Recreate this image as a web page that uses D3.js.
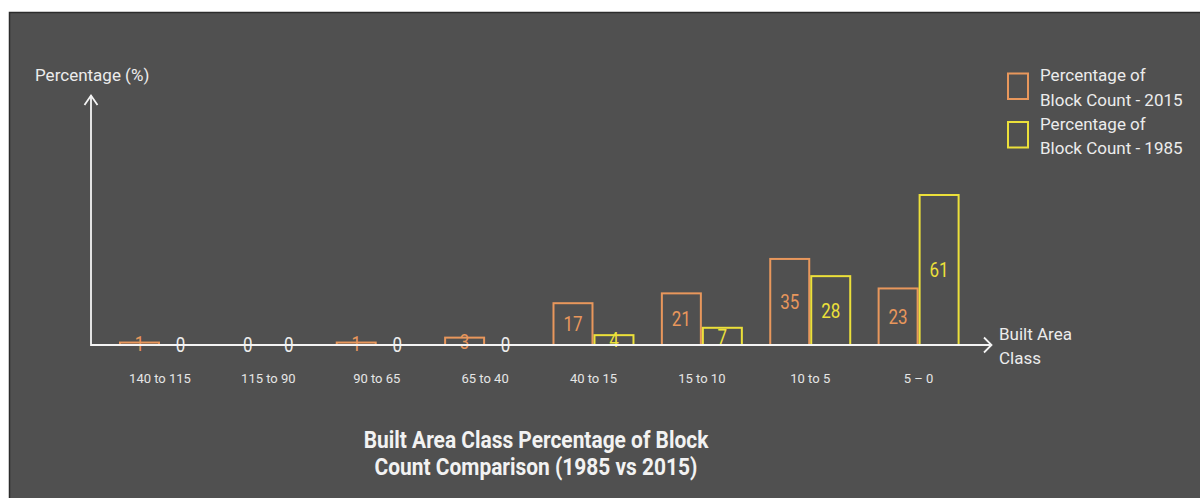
<!DOCTYPE html>
<html><head><meta charset="utf-8">
<script src="https://cdn.jsdelivr.net/npm/d3@7"></script>
<style>
html,body{margin:0;padding:0;background:#fff;}
svg{display:block;font-family:Roboto,"Noto Sans",sans-serif;}
</style></head>
<body>
<svg id="chart" width="1200" height="498"></svg>
<script>
const categories = ["140 to 115","115 to 90","90 to 65","65 to 40","40 to 15","15 to 10","10 to 5","5 \u2013 0"];
const series = ["2015","1985"];
const values2015 = [1, 0, 1, 3, 17, 21, 35, 23];
const values1985 = [0, 0, 0, 0, 4, 7, 28, 61];
const legendLabels = [["Percentage of","Block Count - 2015"],["Percentage of","Block Count - 1985"]];
const colors = {"2015":"#e8975c","1985":"#ece03a"};

const svg = d3.select("#chart");
svg.append("rect").attr("x",9.5).attr("y",12.5).attr("width",1200).attr("height",500)
  .attr("fill","#505050").attr("stroke","#2c2c2c").attr("stroke-width",1.5);

const baseY = 345, axisX = 91;
const x0 = d3.scaleBand().domain(categories).range([105.8, 972.8]).paddingInner(0.2435).paddingOuter(0.12175);
const x1 = d3.scaleBand().domain(series).range([0, x0.bandwidth()]);
const y = d3.scaleLinear().domain([0, 61]).range([baseY, 195]);

const data = categories.map((c,i)=>({cat:c, vals:[{s:"2015",v:values2015[i]},{s:"1985",v:values1985[i]}]}));

const g = svg.append("g");
const groups = g.selectAll("g.grp").data(data).join("g").attr("class","grp")
  .attr("transform",d=>`translate(${x0(d.cat)},0)`);
groups.selectAll("rect").data(d=>d.vals.filter(e=>e.v>0)).join("rect")
  .attr("x",d=>x1(d.s)+1).attr("width",x1.bandwidth()-2)
  .attr("y",d=>y(d.v)).attr("height",d=>y(0)-y(d.v))
  .attr("fill","none").attr("stroke",d=>colors[d.s]).attr("stroke-width",2);

// axes
const axisCol = "#f4f4f4";
svg.append("line").attr("x1",axisX).attr("x2",axisX).attr("y1",baseY+1).attr("y2",95.5)
  .attr("stroke",axisCol).attr("stroke-width",1.8);
svg.append("path").attr("d",`M${axisX-6.5},${105} L${axisX},${95.5} L${axisX+6.5},${105}`)
  .attr("fill","none").attr("stroke",axisCol).attr("stroke-width",1.8);
svg.append("line").attr("x1",axisX).attr("x2",991).attr("y1",baseY).attr("y2",baseY)
  .attr("stroke",axisCol).attr("stroke-width",2.2);
svg.append("path").attr("d",`M984,${baseY-7.5} L991.5,${baseY} L984,${baseY+7.5}`)
  .attr("fill","none").attr("stroke",axisCol).attr("stroke-width",1.8);

// value labels (slightly condensed to match the reference typeface)
groups.selectAll("text.val").data(d=>d.vals).join("text").attr("class","val")
  .attr("transform",d=>`translate(${x1(d.s)+x1.bandwidth()/2},${(y(d.v)+y(0))/2}) scale(0.85,1)`)
  .attr("dy","0.36em").attr("text-anchor","middle")
  .attr("font-size",20)
  .attr("fill",d=>d.v===0 ? "#ececec" : colors[d.s])
  .text(d=>d.v);

// category labels
const xAxis = d3.axisBottom(x0).tickSize(0).tickPadding(0);
const xa = svg.append("g").attr("transform",`translate(0,${baseY})`).call(xAxis);
xa.select(".domain").remove();
xa.selectAll("text").attr("y",37.5).attr("dy",0).attr("font-size",13)
  .attr("font-family","Roboto, sans-serif").attr("fill","#e6e6e6");

// axis titles
svg.append("text").attr("x",35).attr("y",81).attr("font-size",17).attr("fill","#ececec").text("Percentage (%)");
const xt = svg.append("text").attr("x",999).attr("y",339.5).attr("font-size",17).attr("fill","#ececec");
xt.append("tspan").attr("x",999).text("Built Area");
xt.append("tspan").attr("x",999).attr("dy",24.5).text("Class");

// legend
const leg = svg.append("g");
series.forEach((s,i)=>{
  const top = 73.5 + i*48.5;
  leg.append("rect").attr("x",1008).attr("y",top).attr("width",20).attr("height",25.5)
    .attr("fill","none").attr("stroke",colors[s]).attr("stroke-width",2);
  const t = leg.append("text").attr("x",1040).attr("y",top+7.5).attr("font-size",17).attr("fill","#ececec");
  legendLabels[i].forEach((ln,j)=>t.append("tspan").attr("x",1040).attr("dy",j===0?0:24.5).text(ln));
});

// title
const tt = svg.append("text").attr("transform","translate(536,448) scale(0.91,1)").attr("text-anchor","middle")
  .attr("font-size",23).attr("font-weight","bold").attr("fill","#f2f2f2");
tt.append("tspan").attr("x",0).text("Built Area Class Percentage of Block");
tt.append("tspan").attr("x",0).attr("dy",27).text("Count Comparison (1985 vs 2015)");
</script>
</body></html>
